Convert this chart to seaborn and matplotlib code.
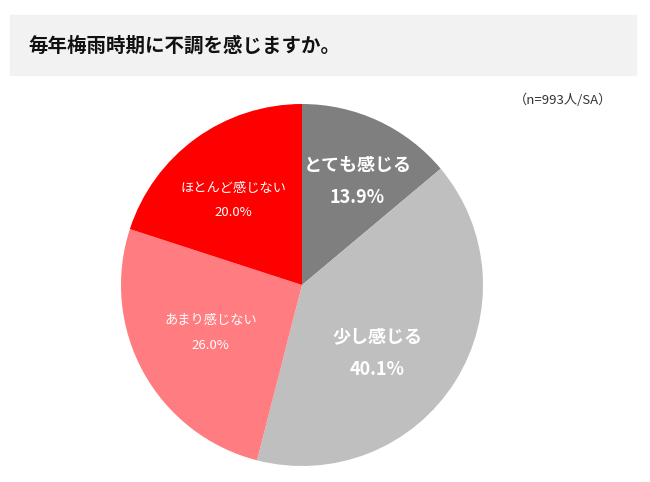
import numpy as np
import matplotlib
matplotlib.use("Agg")
import matplotlib.pyplot as plt
import seaborn as sns
from matplotlib.patches import Rectangle

# データ
labels = ["とても感じる", "少し感じる", "あまり感じない", "ほとんど感じない"]
values = [13.9, 40.1, 26.0, 20.0]
colors = ["#7f7f7f", "#bfbfbf", "#ff7c80", "#ff0000"]
title = "毎年梅雨時期に不調を感じますか。"
note = "（n=993人/SA）"

sns.set_theme(style="white")
plt.rcParams["font.family"] = ["Noto Sans CJK JP", "DejaVu Sans"]

fig = plt.figure(figsize=(6.5, 4.82), dpi=100)

# タイトル帯
fig.patches.append(Rectangle((10 / 650, 1 - 75 / 482), 626 / 650, 60 / 482,
                             transform=fig.transFigure, color="#f2f2f2", zorder=0))
fig.text(28 / 650, 1 - 46 / 482, title, fontsize=14, fontweight="bold",
         va="center", ha="left", color="#111111")
fig.text(612 / 650, 1 - 100 / 482, note, fontsize=9.5, va="center", ha="right", color="#333333")

ax = fig.add_axes([(302 - 181) / 650, (482 - 285 - 181) / 482, 362 / 650, 362 / 482])
wedges, _ = ax.pie(values, colors=colors, startangle=90, counterclock=False,
                   wedgeprops=dict(linewidth=0))
ax.set_xlim(-1, 1)
ax.set_ylim(-1, 1)
ax.set_aspect("equal")
ax.axis("off")

# ラベル配置（半径, 角度補正）
label_r = [0.65, 0.56, 0.57, 0.60]
label_shift = [-3, -10, -1, 3]
big = [True, True, False, False]
for w, lab, v, r, s, b in zip(wedges, labels, values, label_r, label_shift, big):
    ang = np.deg2rad((w.theta1 + w.theta2) / 2 + s)
    x, y = r * np.cos(ang), r * np.sin(ang)
    fs = 13 if b else 9.5
    fw = "bold" if b else "normal"
    gap = 0.088 if b else 0.068
    ax.text(x, y + gap, lab, ha="center", va="center", fontsize=fs, fontweight=fw, color="white")
    ax.text(x, y - gap, f"{v:.1f}%", ha="center", va="center", fontsize=fs, fontweight=fw, color="white")

fig.savefig("out.png", dpi=100)
